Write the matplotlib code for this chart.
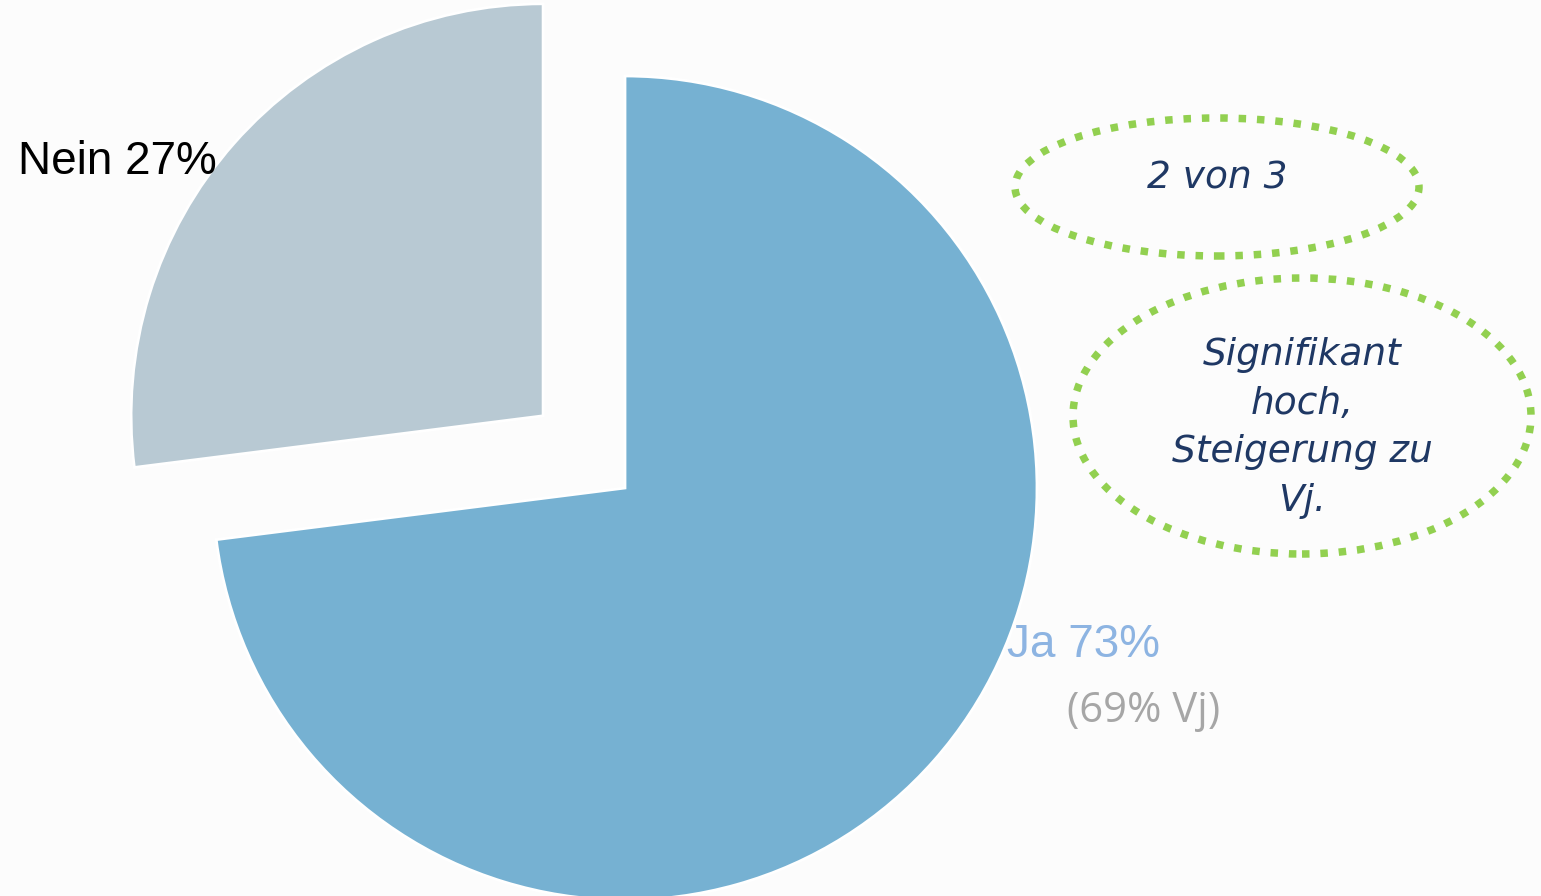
import matplotlib.pyplot as plt
from matplotlib.patches import Ellipse

# ── Data ──────────────────────────────────────────────────────────────────────
labels  = ["Ja", "Nein"]
values  = [73, 27]
prev_ja = 69
notes   = ["2 von 3", "Signifikant\nhoch,\nSteigerung zu\nVj."]

W, H = 1541, 896
BG = "#fcfcfc"
colors = ["#76b1d2", "#b8c9d3"]
R = 412

fig = plt.figure(figsize=(W / 100, H / 100), dpi=100, facecolor=BG)
ax = fig.add_axes([0, 0, 1, 1])
ax.set_facecolor(BG)

# pixel helper: image y (top-down) -> axes y (bottom-up)
def py(y):
    return H - y

# pie's explode offset is in data units here, so scale by the radius
ax.pie(values, startangle=90, counterclock=False, explode=[0, 0.265 * R],
       center=(625, py(488)), radius=R, colors=colors,
       wedgeprops=dict(edgecolor="white", linewidth=2))
ax.set_xlim(0, W)
ax.set_ylim(0, H)
ax.set_aspect("equal")
ax.axis("off")

# ── Labels ────────────────────────────────────────────────────────────────────
ax.text(18, py(174), f"{labels[1]} {values[1]}%", fontsize=33, color="black",
        family="Liberation Sans", va="baseline", ha="left")
ax.text(1007, py(657), f"{labels[0]} {values[0]}%", fontsize=33, color="#8db4e2",
        family="Liberation Sans", va="baseline", ha="left")
ax.text(1067, py(722), f"({prev_ja}% Vj)", fontsize=30, color="#a6a6a6",
        family="Open Sans", va="baseline", ha="left")

# ── Dotted callouts ───────────────────────────────────────────────────────────
ell_style = dict(fill=False, edgecolor="#92d050", linewidth=5.4,
                 linestyle=(0, (1, 1.45)), capstyle="butt")
ax.add_patch(Ellipse((1217, py(187)), 404, 138, **ell_style))
ax.add_patch(Ellipse((1302, py(416)), 458, 276, **ell_style))

ax.text(1217, py(178), notes[0], fontsize=27, color="#1f3864",
        family="DejaVu Sans", style="italic", ha="center", va="center")
ax.text(1302, py(428), notes[1], fontsize=27, color="#1f3864",
        family="DejaVu Sans", style="italic", ha="center", va="center",
        linespacing=1.45)

fig.savefig("out.png", dpi=100, facecolor=BG)
